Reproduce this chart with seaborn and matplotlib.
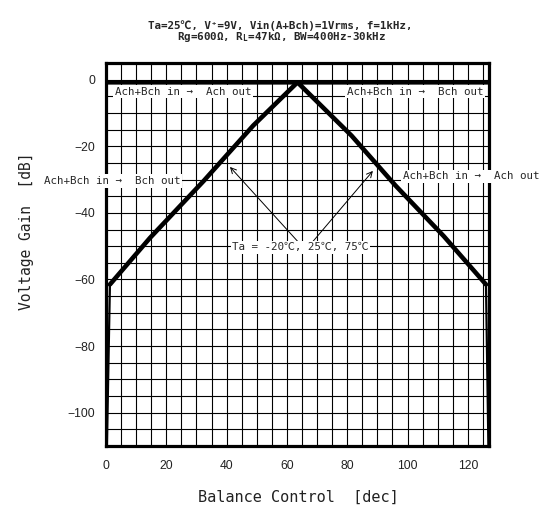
import matplotlib
matplotlib.use("Agg")
import matplotlib.pyplot as plt
import seaborn as sns
import pandas as pd
from matplotlib.ticker import MultipleLocator

# Balance control step [dec] and voltage gain [dB] for each output channel
ach_step = [0, 63.5, 81.4, 96.0, 112.0, 126.0, 126.8]
ach_gain = [-0.8, -0.8, -16.8, -31.8, -47.0, -61.5, -110.0]
bch_step = [0.3, 1.3, 14.6, 32.5, 48.8, 63.5, 127]
bch_gain = [-110.0, -61.5, -47.5, -30.3, -13.8, -0.8, -0.8]

x_ticks = [0, 20, 40, 60, 80, 100, 120]
y_ticks = [0, -20, -40, -60, -80, -100]

title_1 = "Ta=25℃, V⁺=9V, Vin(A+Bch)=1Vrms, f=1kHz,"
title_2 = "Rg=600Ω, R$_\\mathregular{L}$=47kΩ, BW=400Hz-30kHz"

sns.set_style("white")
plt.rcParams["font.family"] = ["DejaVu Sans Mono", "Noto Sans CJK JP"]
plt.rcParams["mathtext.default"] = "regular"

fig = plt.figure(figsize=(5.47, 5.13), dpi=100)
ax = fig.add_axes([106 / 547, 1 - 446 / 513, 383 / 547, 383 / 513])

ach = pd.DataFrame({"step": ach_step, "gain": ach_gain})
bch = pd.DataFrame({"step": bch_step, "gain": bch_gain})

# steep drop near the ends is drawn thin, the tracking part thick
sns.lineplot(data=ach.iloc[:-1], x="step", y="gain", sort=False, color="black",
             lw=3.3, ax=ax, zorder=3, solid_joinstyle="miter")
sns.lineplot(data=ach.iloc[-2:], x="step", y="gain", sort=False, color="black",
             lw=1.6, ax=ax, zorder=3)
sns.lineplot(data=bch.iloc[1:], x="step", y="gain", sort=False, color="black",
             lw=3.3, ax=ax, zorder=3, solid_joinstyle="miter")
sns.lineplot(data=bch.iloc[:2], x="step", y="gain", sort=False, color="black",
             lw=1.6, ax=ax, zorder=3)

ax.set_xlim(0, 127)
ax.set_ylim(-110, 5)
ax.set_xticks(x_ticks)
ax.set_yticks(y_ticks)
ax.xaxis.set_minor_locator(MultipleLocator(5))
ax.yaxis.set_minor_locator(MultipleLocator(5))
ax.grid(which="both", color="black", lw=0.8)
ax.set_axisbelow(True)
ax.tick_params(which="both", length=0)
ax.tick_params(axis="x", pad=10)
ax.tick_params(axis="y", pad=8)
for lab in ax.get_xticklabels() + ax.get_yticklabels():
    lab.set_family(["Liberation Sans", "DejaVu Sans"])
    lab.set_fontsize(8.7)
    lab.set_color("#222222")

for sp in ax.spines.values():
    sp.set_visible(True)
    sp.set_color("black")
    sp.set_linewidth(2.3)

ax.set_xlabel("Balance Control  [dec]", fontsize=11)
ax.set_ylabel("Voltage Gain  [dB]", fontsize=10.5)
ax.xaxis.label.set_color("#222222")
ax.yaxis.label.set_color("#222222")
ax.xaxis.label.set_va("center")
ax.yaxis.label.set_va("center")
ax.xaxis.set_label_coords((298 - 106) / 383, (446 - 497) / 383)
ax.yaxis.set_label_coords((26 - 106) / 383, (446 - 231) / 383)

fig.text(0.512, 1 - 26 / 513, title_1, ha="center", va="center",
         fontsize=7.8, fontweight="bold")
fig.text(0.515, 1 - 37 / 513, title_2, ha="center", va="center",
         fontsize=7.8, fontweight="bold")

box = dict(facecolor="white", edgecolor="none", pad=1.2)
lab_kw = dict(fontsize=7.8, va="center", ha="left", bbox=box, zorder=6,
              clip_on=False)
ax.text(3.0, -3.6, "Ach+Bch in →  Ach out", **lab_kw)
ax.text(-20.6, -30.4, "Ach+Bch in →  Bch out", **lab_kw)
ax.text(79.8, -3.6, "Ach+Bch in →  Bch out", **lab_kw)
ax.text(98.4, -29.0, "Ach+Bch in →  Ach out", **lab_kw)
ax.text(64.5, -50.3, "Ta = -20℃, 25℃, 75℃", fontsize=7.8, ha="center",
        va="center", bbox=box, zorder=6)

arrow = dict(arrowstyle="->", color="black", lw=0.7, shrinkA=0, shrinkB=0)
ax.annotate("", xy=(41.1, -26.2), xytext=(63.6, -48.6), arrowprops=arrow,
            zorder=5)
ax.annotate("", xy=(88.5, -27.4), xytext=(68.6, -48.6), arrowprops=arrow,
            zorder=5)

fig.savefig("out.png", dpi=100, facecolor="white")
